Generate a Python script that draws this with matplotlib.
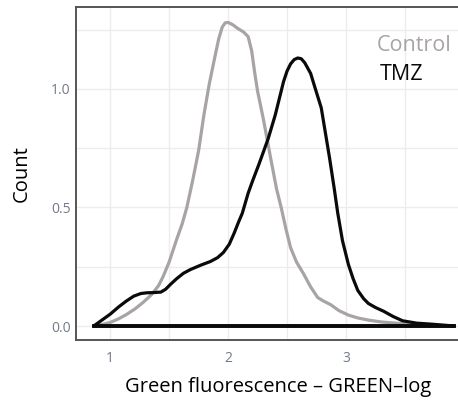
import matplotlib
matplotlib.use("Agg")
import matplotlib.pyplot as plt
from matplotlib.ticker import MultipleLocator

plt.rcParams['font.family'] = ['Open Sans', 'DejaVu Sans']

# density curves
control_x = [0.86, 0.93, 1.0, 1.07, 1.136, 1.21, 1.28, 1.35, 1.41, 1.45, 1.50, 1.56, 1.61,
             1.65, 1.70, 1.75, 1.794, 1.84, 1.89, 1.92, 1.95, 1.975, 2.0, 2.04, 2.08, 2.13,
             2.17, 2.20, 2.225, 2.25, 2.30, 2.36, 2.41, 2.45, 2.49, 2.53, 2.58, 2.64, 2.70,
             2.76, 2.81, 2.87, 2.94, 3.02, 3.10, 3.19, 3.30, 3.47, 3.70, 3.92]
control_y = [0.0, 0.006, 0.015, 0.03, 0.048, 0.072, 0.1, 0.132, 0.17, 0.21, 0.27, 0.36, 0.43,
             0.50, 0.615, 0.74, 0.888, 1.02, 1.14, 1.21, 1.26, 1.278, 1.28, 1.27, 1.255, 1.24,
             1.22, 1.16, 1.07, 0.99, 0.87, 0.71, 0.58, 0.50, 0.41, 0.33, 0.27, 0.22, 0.165,
             0.12, 0.105, 0.09, 0.065, 0.046, 0.034, 0.025, 0.017, 0.01, 0.004, 0.0]

tmz_x = [0.86, 0.93, 1.0, 1.07, 1.136, 1.20, 1.26, 1.31, 1.37, 1.43, 1.47, 1.51, 1.56, 1.62,
         1.68, 1.77, 1.85, 1.91, 1.96, 2.01, 2.05, 2.09, 2.12, 2.17, 2.21, 2.26, 2.34, 2.40,
         2.44, 2.47, 2.50, 2.53, 2.56, 2.59, 2.62, 2.65, 2.70, 2.74, 2.79, 2.82, 2.86, 2.90,
         2.93, 2.97, 3.02, 3.06, 3.10, 3.15, 3.19, 3.25, 3.32, 3.40, 3.48, 3.60, 3.72, 3.92]
tmz_y = [0.0, 0.025, 0.05, 0.08, 0.105, 0.126, 0.137, 0.14, 0.141, 0.143, 0.155, 0.175, 0.198, 0.222,
         0.238, 0.257, 0.272, 0.288, 0.31, 0.345, 0.39, 0.44, 0.475, 0.56, 0.615, 0.68, 0.79, 0.89,
         0.97, 1.03, 1.075, 1.105, 1.123, 1.13, 1.127, 1.11, 1.065, 1.00, 0.92, 0.83, 0.71, 0.58,
         0.476, 0.36, 0.26, 0.20, 0.15, 0.115, 0.095, 0.078, 0.062, 0.04, 0.022, 0.012, 0.008, 0.0]

groups = ['Control', 'TMZ']
colors = ['#a9a4a4', '#0a0a0a']

fig = plt.figure(figsize=(4.58, 4.0), dpi=100)
ax = fig.add_axes([0.166, 0.15, 0.834, 0.8325])

for xs, ys, col in [(control_x, control_y, colors[0]), (tmz_x, tmz_y, colors[1])]:
    ax.plot(xs, ys, color=col, lw=2.3, solid_joinstyle='round', solid_capstyle='round')
    ax.plot([xs[0], xs[-1]], [0, 0], color='#0a0a0a', lw=2.6)

ax.set_xlim(0.71, 3.95)
ax.set_ylim(-0.059, 1.345)
ax.xaxis.set_major_locator(MultipleLocator(1))
ax.xaxis.set_minor_locator(MultipleLocator(0.5))
ax.yaxis.set_minor_locator(MultipleLocator(0.25))
ax.set_yticks([0, 0.5, 1.0])
ax.set_yticklabels(['0.0', '0.5', '1.0'])
ax.grid(True, which='both', color='#ececec', lw=1.0)
ax.set_axisbelow(True)

for s in ['left', 'top', 'bottom']:
    ax.spines[s].set_color('#555555')
    ax.spines[s].set_linewidth(1.4)
ax.spines['right'].set_visible(False)
ax.tick_params(which='both', length=0, labelsize=10, labelcolor='#727a88')
ax.tick_params(axis='y', pad=4)
ax.tick_params(axis='x', pad=8)

ax.set_xlabel('Green fluorescence \u2013 GREEN\u2013log', fontsize=14.5, labelpad=8, x=0.53)
ax.set_ylabel('Count', fontsize=14.5, labelpad=14)

# legend as coloured text
ax.text(0.788, 0.869, groups[0], color=colors[0], fontsize=15.5,
        transform=ax.transAxes, va='baseline', ha='left')
ax.text(0.796, 0.781, groups[1], color=colors[1], fontsize=15.5,
        transform=ax.transAxes, va='baseline', ha='left')

fig.savefig('out.png', dpi=100)
